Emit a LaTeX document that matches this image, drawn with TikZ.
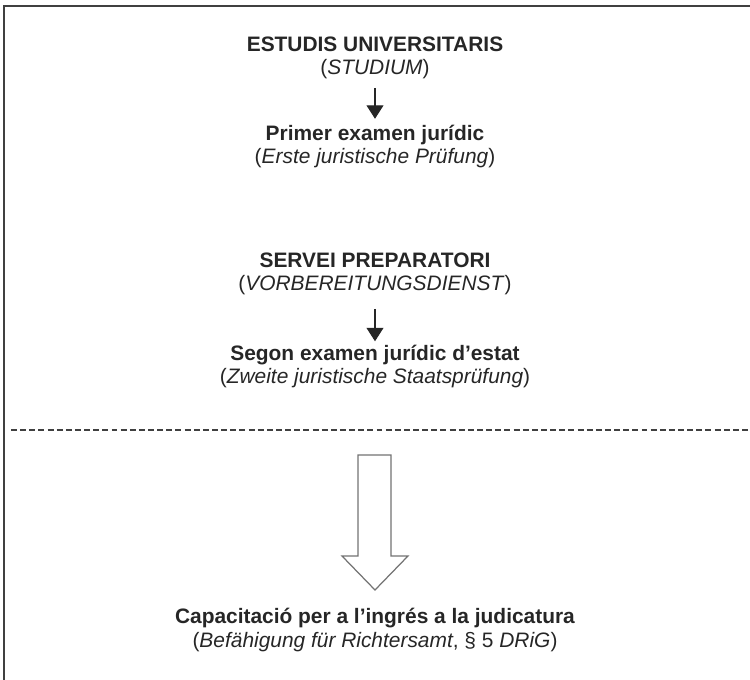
\documentclass[tikz,border=0pt]{standalone}
\usepackage{fontspec}
\setmainfont{Liberation Sans}
\usetikzlibrary{arrows.meta}
\tikzset{
  etapa/.style={align=center,inner sep=2pt,font=\fontsize{11.9}{13.1}\selectfont,text=black!85},
  fletxa/.style={-{Triangle[width=0.34cm,length=0.27cm]},line width=0.6pt,black!85},
}

\begin{document}
\begin{tikzpicture}[scale=1.0]
    \useasboundingbox (0,0) rectangle (15,13.6);
    % marc
    \draw[line width=1.2pt,black!75](0.08,0)--(0.08,13.48)--(15,13.48);
    \node[etapa] (estudis) at (7.5,12.44) {\textbf{ESTUDIS UNIVERSITARIS}\\(\textit{STUDIUM})};
    \node[etapa] (primer) at (7.5,10.66) {\textbf{Primer examen jurídic}\\(\textit{Erste juristische Prüfung})};
    \node[etapa] (servei) at (7.5,8.12) {\textbf{SERVEI PREPARATORI}\\(\textit{VORBEREITUNGSDIENST})};
    \node[etapa] (segon) at (7.5,6.27) {\textbf{Segon examen jurídic d’estat}\\(\textit{Zweite juristische Staatsprüfung})};
    \node[etapa] (capacitat) at (7.5,1.0) {\textbf{Capacitació per a l’ingrés a la judicatura}\\(\textit{Befähigung für Richtersamt}, § 5 \textit{DRiG})};
    \draw[fletxa,shorten <=0.1cm,shorten >=0.06cm](estudis)--(primer);
    \draw[fletxa,shorten <=0.2cm,shorten >=0.0cm](servei)--(segon);
    \draw[dashed,dash pattern=on 3.4pt off 1.8pt,line width=0.8pt,black!75](0.22,5.0)--(15,5.0);
    % fletxa gran
    \draw[line width=0.7pt,black!55,fill=white](7.16,4.5)--(7.82,4.5)--(7.82,2.48)--(8.16,2.48)
      --(7.5,1.8)--(6.84,2.48)--(7.16,2.48)--cycle;
  \end{tikzpicture}
\end{document}
